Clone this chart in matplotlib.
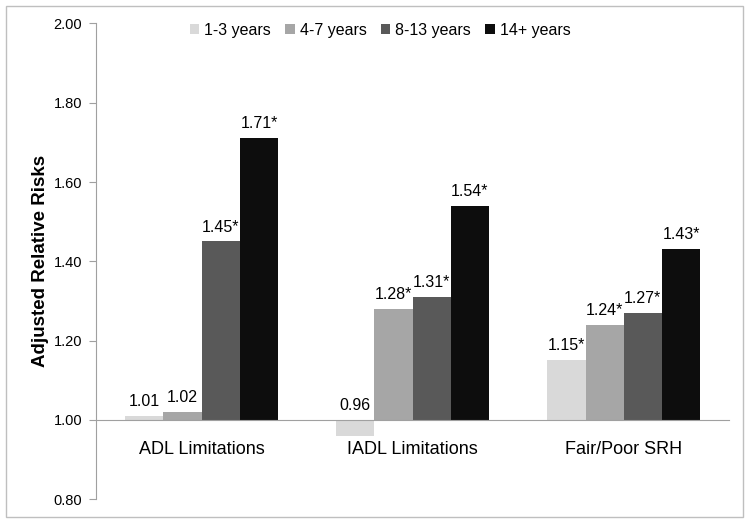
import matplotlib
matplotlib.use("Agg")
import matplotlib.pyplot as plt
import numpy as np
from matplotlib.patches import Rectangle

plt.rcParams['font.family'] = ['Liberation Sans', 'DejaVu Sans']

categories = ['ADL Limitations', 'IADL Limitations', 'Fair/Poor SRH']
groups = ['1-3 years', '4-7 years', '8-13 years', '14+ years']
values = [
    [1.01, 0.96, 1.15],   # 1-3 years
    [1.02, 1.28, 1.24],   # 4-7 years
    [1.45, 1.31, 1.27],   # 8-13 years
    [1.71, 1.54, 1.43],   # 14+ years
]
labels = [
    ['1.01', '0.96', '1.15*'],
    ['1.02', '1.28*', '1.24*'],
    ['1.45*', '1.31*', '1.27*'],
    ['1.71*', '1.54*', '1.43*'],
]
colors = ['#d9d9d9', '#a6a6a6', '#595959', '#0d0d0d']
yticks = [0.80, 1.00, 1.20, 1.40, 1.60, 1.80, 2.00]

fig = plt.figure(figsize=(7.51, 5.22), dpi=100)
ax = fig.add_axes([0.128, 0.044, 0.843, 0.911])

# axis line sits at 1.00 (set before ticks, set_position resets them)
for s in ['top', 'right']:
    ax.spines[s].set_visible(False)
ax.spines['bottom'].set_position(('data', 1.0))
ax.spines['bottom'].set_color('#a0a0a0')
ax.spines['left'].set_color('#a0a0a0')

x = np.arange(len(categories))
w = 0.181
for i, g in enumerate(groups):
    pos = x + (i - 1.5) * w
    vals = np.array(values[i])
    ax.bar(pos, vals - 1.0, bottom=1.0, width=w, color=colors[i], label=g)
    for xp, v, t in zip(pos, vals, labels[i]):
        ax.annotate(t, (xp, max(v, 1.0)), xytext=(0, 5), textcoords='offset points',
                    ha='center', va='bottom', fontsize=11.5)

ax.set_xlim(-0.5, 2.5)
ax.set_ylim(0.8, 2.0)
ax.set_yticks(yticks)
ax.set_yticklabels(['%.2f' % t for t in yticks], fontsize=10.5)
ax.set_xticks(x)
ax.set_xticklabels(categories, fontsize=13)
ax.tick_params(axis='x', length=0, pad=15)
ax.tick_params(axis='y', length=5, color='#a0a0a0', direction='out', pad=5)

ax.set_ylabel('Adjusted Relative Risks', fontsize=13.5, fontweight='bold', labelpad=3)

ax.legend(loc='center', bbox_to_anchor=(0.506, 0.942), bbox_transform=fig.transFigure,
          ncol=4, frameon=False, fontsize=11.5, handlelength=0.6, handleheight=0.6,
          handletextpad=0.3, columnspacing=0.9)

fig.patches.append(Rectangle((0.008, 0.01), 0.982, 0.978, transform=fig.transFigure,
                             fill=False, edgecolor='#bfbfbf', linewidth=1))

fig.savefig('out.png', dpi=100)
